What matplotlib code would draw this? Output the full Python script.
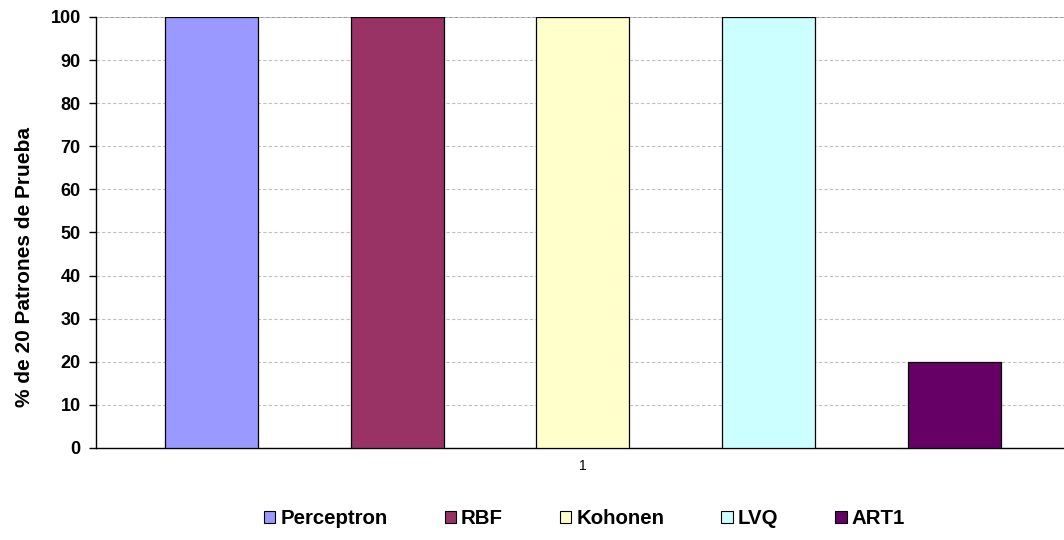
import numpy as np
import matplotlib.pyplot as plt
from matplotlib.patches import Patch

plt.rcParams['font.family'] = ['Liberation Sans', 'DejaVu Sans']

# porcentaje de patrones de prueba reconocidos por cada red
redes = ['Perceptron', 'RBF', 'Kohonen', 'LVQ', 'ART1']
porcentaje = [100, 100, 100, 100, 20]
colores = ['#9999ff', '#993366', '#ffffcc', '#ccffff', '#660066']
categoria = ['1']

fig = plt.figure(figsize=(10.64, 5.4), dpi=100)
ax = fig.add_axes([96/1064, 1 - 448/540, 968/1064, 431/540])

centro = 0.503
paso = 0.1918
ancho = 0.096
for i, (nombre, val, c) in enumerate(zip(redes, porcentaje, colores)):
    ax.bar(centro + (i - 2) * paso, val, width=ancho, color=c,
           edgecolor='black', linewidth=0.9, zorder=3, label=nombre)

ax.set_xlim(0, 1)
ax.set_ylim(0, 100)
ax.set_yticks(np.arange(0, 101, 10))
ax.set_yticklabels([str(v) for v in range(0, 101, 10)],
                   fontsize=13, fontweight='bold')
ax.set_xticks([centro])
ax.set_xticklabels(categoria, fontsize=10)
ax.tick_params(axis='x', length=0, pad=8)
ax.tick_params(axis='y', length=5, width=1, direction='out', pad=6)

ax.yaxis.grid(True, color='#bfbfbf', linestyle=(0, (3, 2)), linewidth=0.8, zorder=0)
ax.axhline(100, color='#808080', linewidth=1.2, zorder=1)

for s in ['top', 'right']:
    ax.spines[s].set_visible(False)
ax.spines['left'].set_linewidth(1)
ax.spines['bottom'].set_linewidth(1)

ax.set_ylabel('% de 20 Patrones de Prueba', fontsize=15, fontweight='bold')
ax.yaxis.set_label_coords(-0.064, 0.42)

handles = [Patch(facecolor=c, edgecolor='black', linewidth=0.8) for c in colores]
fig.legend(handles, redes, loc='center', bbox_to_anchor=(584.5/1064, 1 - 519/540),
           ncol=5, frameon=False, handlelength=0.55, handleheight=0.55,
           handletextpad=0.25, columnspacing=2.8,
           prop={'weight': 'bold', 'size': 14.7})

fig.savefig('out.png', dpi=100)
